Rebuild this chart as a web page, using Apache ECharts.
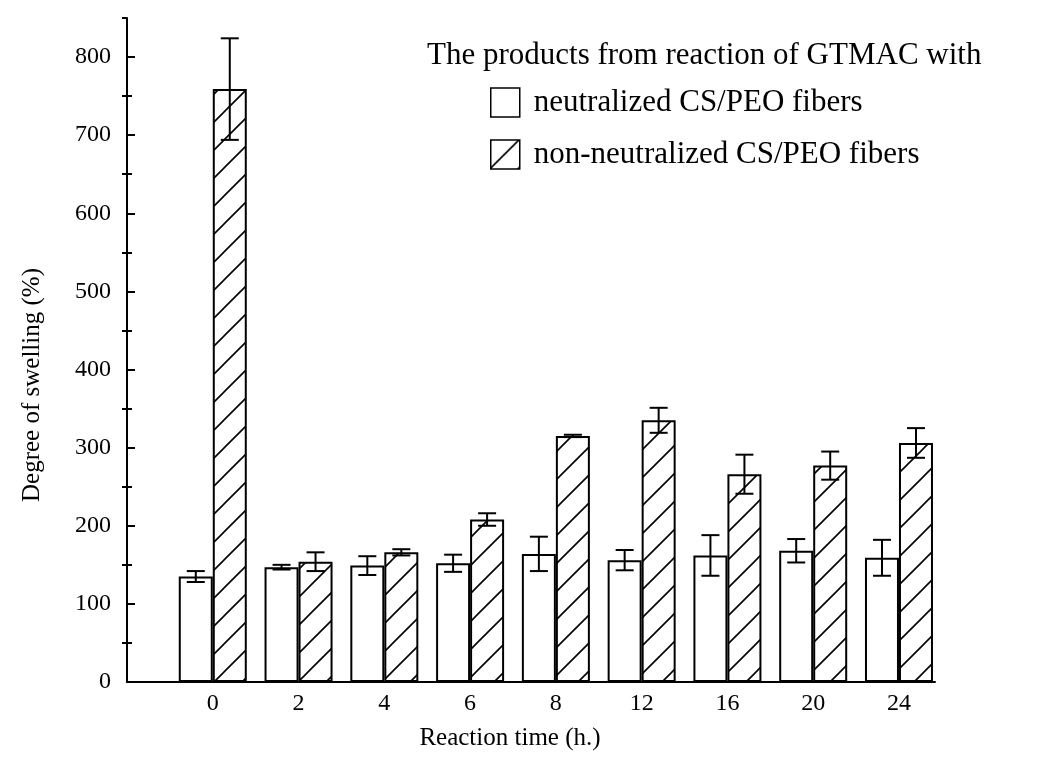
<!DOCTYPE html>
<html>
<head>
<meta charset="utf-8">
<script src="https://cdn.jsdelivr.net/npm/echarts@6/dist/echarts.min.js"></script>
<style>
  html, body { margin: 0; padding: 0; background: #fff; }
  #chart { width: 1038px; height: 762px; }
</style>
</head>
<body>
<div id="chart"></div>
<script>
// Reaction times (h), one group of bars each
const times = ['0', '2', '4', '6', '8', '12', '16', '20', '24'];

// Degree of swelling (%) and error (±)
const neutralized       = [135, 147, 149, 152, 164, 156, 162, 168, 159];
const neutralizedErr    = [7, 3, 12, 11, 22, 13, 26, 15, 23];
const nonNeutralized    = [759, 154, 166, 208, 315, 335, 266, 277, 306];
const nonNeutralizedErr = [65, 12, 4, 8, 1.5, 16, 25, 18, 19];

// Series names / heading
const headingText = 'The products from reaction of GTMAC with';
const nameA = 'neutralized CS/PEO fibers';
const nameB = 'non-neutralized CS/PEO fibers';

// Y scale
const yMax = 850;
const yMajor = 100;
const yMinor = 50;

// X extent in group slots (groups sit at 1..9)
const xMax = 9.42;

const FONT = '"Liberation Serif", "Times New Roman", Times, serif';
const BAR_W = 34;

// Half-step tick positions along the value axis (used for the minor tick marks)
const yHalfSteps = Array.from({ length: yMax / yMinor + 1 }, (_, i) => String(i * yMinor));

// Diagonal hatch tile for the non-neutralized bars
function hatchTile() {
  const s = 28;
  const c = document.createElement('canvas');
  c.width = s; c.height = s;
  const g = c.getContext('2d');
  g.fillStyle = '#fff';
  g.fillRect(0, 0, s, s);
  g.strokeStyle = '#000';
  g.lineWidth = 1.6;
  g.beginPath();
  g.moveTo(-2, s + 2); g.lineTo(s + 2, -2);
  g.moveTo(-2, 2); g.lineTo(2, -2);
  g.moveTo(s - 2, s + 2); g.lineTo(s + 2, s - 2);
  g.stroke();
  return c;
}
const hatch = { image: hatchTile(), repeat: 'repeat' };

// Error bars with caps, shifted onto the left (-1) or right (+1) bar of a pair
function errorSeries(id, values, errs, side) {
  return {
    type: 'custom',
    id: id,
    z: 5,
    silent: true,
    xAxisIndex: 0,
    yAxisIndex: 0,
    data: values.map((v, i) => [i + 1, v - errs[i], v + errs[i]]),
    encode: { x: 0, y: [1, 2] },
    renderItem: function (params, api) {
      const lo = api.coord([api.value(0), api.value(1)]);
      const hi = api.coord([api.value(0), api.value(2)]);
      const x = lo[0] + side * BAR_W / 2;
      const cap = 9;
      const st = { stroke: '#000', lineWidth: 2 };
      return {
        type: 'group',
        children: [
          { type: 'line', shape: { x1: x, y1: hi[1], x2: x, y2: lo[1] }, style: st },
          { type: 'line', shape: { x1: x - cap, y1: hi[1], x2: x + cap, y2: hi[1] }, style: st },
          { type: 'line', shape: { x1: x - cap, y1: lo[1], x2: x + cap, y2: lo[1] }, style: st }
        ]
      };
    }
  };
}

const chart = echarts.init(document.getElementById('chart'), null, { renderer: 'canvas' });

chart.setOption({
  backgroundColor: '#fff',
  animation: false,
  title: {
    text: headingText,
    left: 427,
    top: 40,
    padding: 0,
    textStyle: { fontFamily: FONT, fontSize: 31, fontWeight: 'normal', color: '#000' }
  },
  legend: {
    orient: 'vertical',
    left: 490,
    top: 87,
    padding: 0,
    itemWidth: 29,
    itemHeight: 29,
    itemGap: 21,
    selectedMode: false,
    data: [{ name: nameA, icon: 'rect' }, { name: nameB, icon: 'rect' }],
    itemStyle: { borderColor: '#000', borderWidth: 1.5 },
    textStyle: { fontFamily: FONT, fontSize: 31, color: '#000', padding: [0, 0, 0, 9] }
  },
  grid: { left: 127, right: 103, top: 18, bottom: 80, containLabel: false },
  xAxis: {
    type: 'value',
    min: 0,
    max: xMax,
    interval: 1,
    name: 'Reaction time (h.)',
    nameLocation: 'middle',
    nameGap: 44,
    nameTextStyle: { fontFamily: FONT, fontSize: 25, color: '#000', padding: [0, 42, 0, 0] },
    axisLine: { lineStyle: { color: '#000', width: 2 } },
    axisTick: { show: false },
    axisLabel: {
      margin: 10,
      showMinLabel: false,
      showMaxLabel: false,
      fontFamily: FONT, fontSize: 24, color: '#000',
      formatter: (v) => (Number.isInteger(v) && v >= 1 && v <= times.length) ? times[v - 1] : ''
    },
    splitLine: { show: false }
  },
  yAxis: [
    {
      type: 'value',
      min: 0,
      max: yMax,
      interval: yMajor,
      name: 'Degree of swelling (%)',
      nameLocation: 'middle',
      nameGap: 82,
      nameTextStyle: { fontFamily: FONT, fontSize: 25, color: '#000', padding: [0, 70, 0, 0] },
      axisLine: { show: true, lineStyle: { color: '#000', width: 2 } },
      axisTick: { show: true, inside: true, length: 8, lineStyle: { color: '#000', width: 2 } },
      axisLabel: { margin: 16, showMaxLabel: false, fontFamily: FONT, fontSize: 24, color: '#000' },
      splitLine: { show: false }
    },
    {
      // outer half of the minor tick marks
      type: 'category',
      data: yHalfSteps,
      boundaryGap: false,
      position: 'left',
      axisLine: { show: false },
      axisTick: {
        show: true, inside: false, length: 5,
        interval: (i) => i % 2 === 1,
        lineStyle: { color: '#000', width: 2 }
      },
      axisLabel: { show: false },
      splitLine: { show: false }
    },
    {
      // inner half of the minor tick marks
      type: 'category',
      data: yHalfSteps,
      boundaryGap: false,
      position: 'left',
      axisLine: { show: false },
      axisTick: {
        show: true, inside: true, length: 5,
        interval: (i) => i % 2 === 1 && i < yHalfSteps.length - 1,
        lineStyle: { color: '#000', width: 2 }
      },
      axisLabel: { show: false },
      splitLine: { show: false }
    }
  ],
  series: [
    {
      name: nameA,
      type: 'bar',
      data: neutralized.map((v, i) => [i + 1, v]),
      barWidth: BAR_W,
      barGap: '0%',
      itemStyle: { color: '#fff', borderColor: '#000', borderWidth: 2 },
      z: 2
    },
    {
      name: nameB,
      type: 'bar',
      data: nonNeutralized.map((v, i) => [i + 1, v]),
      barWidth: BAR_W,
      barGap: '0%',
      itemStyle: { color: hatch, borderColor: '#000', borderWidth: 2 },
      z: 2
    },
    errorSeries('errA', neutralized, neutralizedErr, -1),
    errorSeries('errB', nonNeutralized, nonNeutralizedErr, 1)
  ]
});
</script>
</body>
</html>
